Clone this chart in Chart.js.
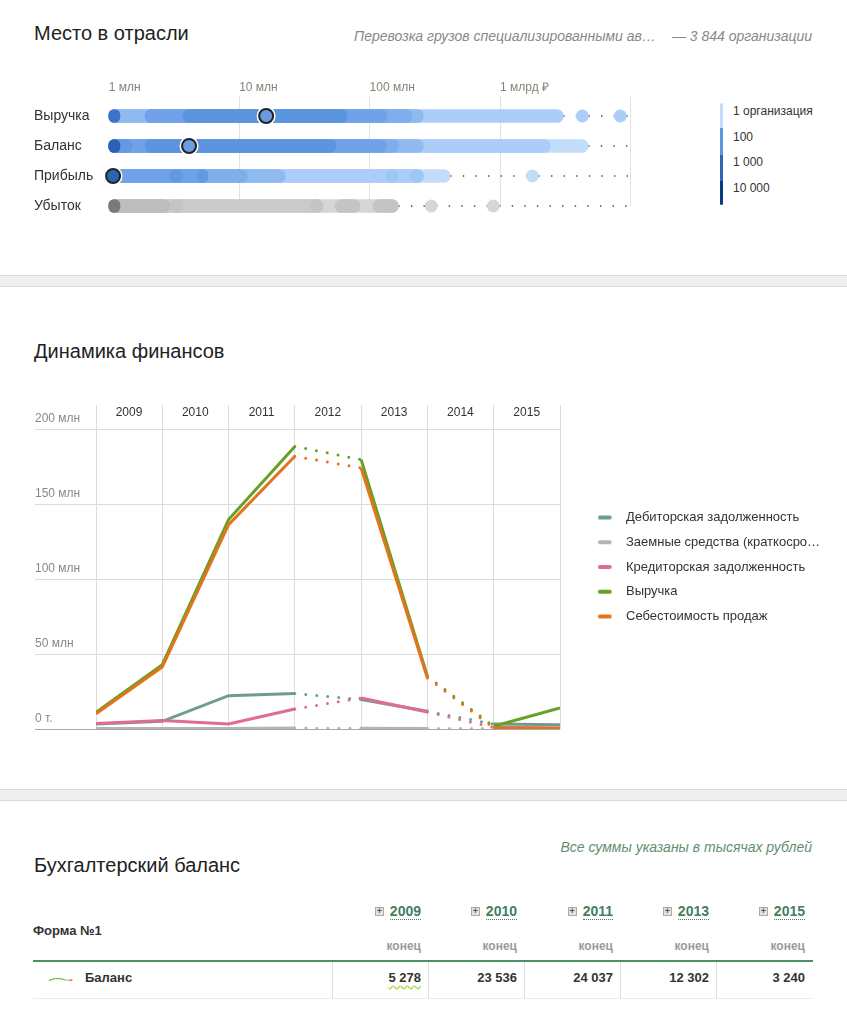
<!DOCTYPE html>
<html><head><meta charset="utf-8">
<script src="https://cdn.jsdelivr.net/npm/chart.js@4.4.1/dist/chart.umd.min.js"></script>
<style>
body{margin:0;background:#fff;font-family:"Liberation Sans",Arial,sans-serif;color:#222;}
#page{position:relative;width:847px;height:1021px;overflow:hidden;}
.abs{position:absolute;white-space:nowrap;}
h2{position:absolute;margin:0;font-weight:normal;font-size:20px;line-height:24px;color:#222;left:34px;}
.sep{position:absolute;left:0;width:847px;height:10px;background:#efefef;border-top:1px solid #d9d9d9;border-bottom:1px solid #d9d9d9;}
.note{font-style:italic;font-size:14px;line-height:16px;color:#888;right:35px;}
.lg{font-size:12px;line-height:14px;color:#333;left:733px;}
.bar{left:720px;width:3px;}
.th-year{font-size:14px;line-height:16px;font-weight:bold;color:#3f8060;text-align:right;}
.th-year .y{border-bottom:1px dotted #3f8060;}
.plus{display:inline-block;width:7px;height:7px;border:1px solid #aaa;background:#e2e2e2;font-size:9px;line-height:7px;text-align:center;color:#555;vertical-align:2px;margin-right:6px;font-weight:bold;}
.th-end{font-size:12px;line-height:14px;font-weight:bold;color:#9a9a9a;text-align:right;}
.cell{font-size:13px;line-height:16px;font-weight:bold;color:#333;text-align:right;}
.vsep{position:absolute;top:961px;height:37px;width:1px;background:#dedede;}
</style></head>
<body><div id="page">
<h2 style="top:21px">Место в отрасли</h2>
<div class="abs note" style="top:28px"><span>Перевозка грузов специализированными ав…</span><span style="margin-left:16px">— 3 844 организации</span></div>
<canvas id="rank" class="abs" style="left:0;top:60px" width="650" height="170"></canvas>
<div id="dens"></div>

<div class="sep" style="top:275px"></div>
<h2 style="top:339px">Динамика финансов</h2>
<canvas id="fin" class="abs" style="left:0;top:395px" width="847" height="350"></canvas>

<div class="sep" style="top:789px"></div>
<div class="abs note" style="top:839px;color:#5f9070">Все суммы указаны в тысячах рублей</div>
<h2 style="top:853px">Бухгалтерский баланс</h2>
<div id="table"></div>
</div>
<script>
// ---------- Место в отрасли ----------
const rankRows = ['Выручка', 'Баланс', 'Прибыль', 'Убыток'];
const rankTickValues = [1e6, 1e7, 1e8, 1e9, 1e10];
const rankTickLabels = ['1 млн', '10 млн', '100 млн', '1 млрд ₽', ''];
const densityLabels = ['1 организация', '100', '1 000', '10 000'];
// [from ₽, to ₽, density level]
const revenueSegments = [[1.0e6,3.05e9,1],[1.0e6,2.58e8,3],[1.9e6,2.12e8,4],[1.9e6,1.36e8,5],[3.71e6,6.72e7,7],[1.0e6,1.22e6,8]];
const balanceSegments = [[1.0e6,4.74e9,0],[1.0e6,2.43e9,1],[1.0e6,2.58e8,3],[1.0e6,1.66e8,4],[1.0e6,1.34e8,5],[1.9e6,5.54e7,7],[1.0e6,1.51e6,6],[1.0e6,1.22e6,9]];
const profitSegments = [[1.0e6,4.15e8,0],[1.0e6,2.58e8,1],[1.33e8,1.66e8,2],[2.06e8,2.59e8,2],[1.0e6,2.25e7,3],[1.0e6,1.15e7,4],[1.0e6,5.77e6,5],[2.95e6,3.71e6,6],[4.75e6,5.77e6,6]];
const lossSegments = [[1.0e6,1.66e8,0],[1.0e6,4.4e7,1],[5.44e7,8.46e7,2],[1.06e8,1.66e8,2],[3.5e7,4.4e7,2],[2.95e6,3.71e6,2],[1.0e6,2.95e6,3],[1.0e6,1.22e6,4]];
const revenueOutliers = [4.27e9, 8.34e9];
const balanceOutliers = [];
const profitOutliers = [1.77e9];
const lossOutliers = [2.97e8, 8.87e8];
const companyValues = [1.61e7, 4.13e6, 1.08e6, null];

// ---------- Динамика финансов (млн ₽) ----------
const years = ['2009','2010','2011','2012','2013','2014','2015'];
const missingYears = ['2012','2014'];
const receivables = [3.3, 5.1, 22.2, 23.6, 19.6, 11.8, 3.3, 2.9];
const borrowings = [0.4, 0.4, 0.4, 0.6, 0.5, 0.4, 0.3, 0.3];
const payables = [3.6, 5.6, 3.3, 13.3, 20.7, 11.3, 1.1, 0.6];
const revenue = [11.1, 42.9, 139.6, 188.4, 179.6, 35.1, 1.8, 14.0];
const costOfSales = [10.2, 41.3, 136.2, 181.8, 174.0, 34.0, 0.7, 0.5];
const finTicks = [0, 50, 100, 150, 200];

// ---------- Бухгалтерский баланс (тыс. ₽) ----------
const tableYears = ['2009','2010','2011','2013','2015'];
const balanceValues = [5278, 23536, 24037, 12302, 3240];

// ================= styles / building =================
const bluePal = ['#c2ddfb','#abcdf7','#a0c6f4','#8fbaf0','#7eaeec','#6fa2e8','#6399e2','#5b95e0','#3c74c9','#2b62b8'];
const grayPal = ['#d6d6d6','#cbcbcb','#c4c4c4','#bdbdbd','#7a7a7a'];
const rowSegs = [revenueSegments, balanceSegments, profitSegments, lossSegments];
const rowOutliers = [revenueOutliers, balanceOutliers, profitOutliers, lossOutliers];
const rowPal = [bluePal, bluePal, bluePal, grayPal];
const outlierLevel = [1, 1, 0, 0];
const markerFill = ['#6a9be0', '#6a9de2', '#2c64b4'];

const rankDatasets = [];
let seq = 0;
rowSegs.forEach((segs, r) => {
  segs.forEach(s => {
    rankDatasets.push({
      type: 'bar',
      data: rankRows.map((_, i) => i === r ? [s[0], s[1]] : null),
      backgroundColor: rowPal[r][s[2]],
      barThickness: 13, borderRadius: 7, borderSkipped: false, grouped: false,
      clip: false, order: 500 - (seq++)
    });
  });
  const end = Math.max(...segs.map(s => s[1]));
  rankDatasets.push({
    type: 'line',
    data: [{x: end, y: rankRows[r]}, {x: rankTickValues[rankTickValues.length - 1], y: rankRows[r]}],
    borderColor: '#444', borderWidth: 1.4, borderDash: [1.4, 11.2], pointRadius: 0,
    clip: false, order: 1000
  });
  if (rowOutliers[r].length) {
    rankDatasets.push({
      type: 'line', showLine: false,
      data: rowOutliers[r].map(v => ({x: v, y: rankRows[r]})),
      pointRadius: 6.5, pointBackgroundColor: rowPal[r][outlierLevel[r]], pointBorderWidth: 0,
      clip: false, order: 20
    });
  }
  if (companyValues[r] != null) {
    rankDatasets.push({
      type: 'line', showLine: false,
      data: [{x: companyValues[r], y: rankRows[r]}],
      pointRadius: 9.5, pointBackgroundColor: '#fff', pointBorderWidth: 0, clip: false, order: 3
    });
    rankDatasets.push({
      type: 'line', showLine: false,
      data: [{x: companyValues[r], y: rankRows[r]}],
      pointRadius: 7, pointBackgroundColor: markerFill[r], pointBorderColor: '#222', pointBorderWidth: 2,
      clip: false, order: 1
    });
  }
});

new Chart(document.getElementById('rank'), {
  type: 'bar',
  data: { labels: rankRows, datasets: rankDatasets },
  options: {
    indexAxis: 'y', responsive: false, animation: false, events: [],
    layout: { padding: { left: 34, right: 19.5, top: 16, bottom: 24 } },
    scales: {
      x: {
        type: 'logarithmic', position: 'top', min: 0.95e6, max: 1e10,
        afterBuildTicks: s => { s.ticks = rankTickValues.map(v => ({value: v})); },
        afterFit: s => { s.height = 40; },
        grid: { color: c => (c.tick && c.tick.value === rankTickValues[0]) ? 'rgba(0,0,0,0)' : '#e2e2e2', tickLength: 20 },
        border: { display: false },
        ticks: { align: 'start', padding: 1, color: '#8a8278', font: { size: 12, family: 'Liberation Sans' },
          maxRotation: 0, autoSkip: false,
          callback: v => { const i = rankTickValues.indexOf(v); return i >= 0 ? rankTickLabels[i] : ''; } }
      },
      y: {
        type: 'category', offset: false,
        afterFit: s => { s.width = 71.8; },
        grid: { display: false }, border: { display: false },
        ticks: { crossAlign: 'far', padding: 0, color: '#333', font: { size: 14, family: 'Liberation Sans' } }
      }
    },
    plugins: { legend: { display: false }, tooltip: { enabled: false } }
  }
});

// density colour legend (HTML)
(function(){
  const segCols = ['#c2ddfb', '#5b96e0', '#2d67ba', '#0d3a80'];
  const tops = [103, 128, 155, 181, 205];
  const lc = [110.7, 136.7, 162, 187.7];
  let h = '';
  segCols.forEach((c, i) => {
    const rad = i === 0 ? 'border-radius:2px 2px 0 0;' : (i === 3 ? 'border-radius:0 0 2px 2px;' : '');
    h += `<div class="abs bar" style="top:${tops[i]}px;height:${tops[i+1]-tops[i]}px;background:${c};${rad}"></div>`;
    h += `<div class="abs lg" style="top:${lc[i]-7}px">${densityLabels[i]}</div>`;
  });
  document.getElementById('dens').innerHTML = h;
})();

// ---------- line chart ----------
function swatch(color){
  const c = document.createElement('canvas'); c.width = 22; c.height = 6;
  const g = c.getContext('2d'); g.strokeStyle = color; g.lineWidth = 4; g.lineCap = 'round';
  g.beginPath(); g.moveTo(2, 3); g.lineTo(12, 3); g.stroke(); return c;
}
const missingIdx = missingYears.map(y => years.indexOf(y));
const finSeries = [
  ['Дебиторская задолженность', receivables, '#6c9d8e'],
  ['Заемные средства (краткосро…', borrowings, '#b4b4b4'],
  ['Кредиторская задолженность', payables, '#df6d8c'],
  ['Выручка', revenue, '#67a024'],
  ['Себестоимость продаж', costOfSales, '#e3741e']
];
const finDatasets = finSeries.map((s, i) => ({
  label: s[0],
  data: s[1].map((v, k) => ({x: k, y: v})),
  borderColor: s[2], backgroundColor: s[2], borderWidth: 3, pointRadius: 0,
  pointStyle: swatch(s[2]), tension: 0, order: finSeries.length - 1 - i,
  segment: {
    borderDash: c => missingIdx.includes(c.p0DataIndex) ? [0, 11] : undefined,
    borderCapStyle: c => missingIdx.includes(c.p0DataIndex) ? 'round' : undefined
  }
}));

const LEGEND_LEFT = 586.25;
const finChart = new Chart(document.getElementById('fin'), {
  type: 'line',
  data: { datasets: finDatasets },
  options: {
    responsive: false, animation: false, events: [],
    layout: { padding: { left: 35, top: 10, right: 0, bottom: 16 } },
    scales: {
      x: {
        type: 'linear', position: 'top', min: 0, max: years.length,
        afterBuildTicks: s => { s.ticks = years.concat(['']).map((_, k) => ({value: k})); },
        afterFit: s => { s.height = 24; },
        grid: { color: '#dcdcdc', tickLength: 24 },
        border: { display: false },
        ticks: { labelOffset: 33, padding: -15, color: '#333', font: { size: 12, family: 'Liberation Sans' },
          maxRotation: 0, autoSkip: false, callback: v => years[v] || '' }
      },
      y: {
        min: finTicks[0], max: finTicks[finTicks.length - 1],
        afterBuildTicks: s => { s.ticks = finTicks.map(v => ({value: v})); },
        afterFit: s => { s.width = 61; },
        grid: { color: c => (c.tick && c.tick.value === 0) ? '#a8a8a8' : '#dcdcdc', tickLength: 61 },
        border: { display: false },
        ticks: { crossAlign: 'far', labelOffset: -10, padding: 0, color: '#888', font: { size: 12, family: 'Liberation Sans' },
          callback: v => v === 0 ? '0 т.' : v + ' млн' }
      },
      spacer: {
        type: 'linear', position: 'right', display: true,
        afterFit: s => { s.width = 26.25; },
        grid: { display: false }, ticks: { display: false }, border: { display: false }
      }
    },
    plugins: {
      tooltip: { enabled: false },
      legend: {
        position: 'right', align: 'center', maxWidth: 400,
        labels: { usePointStyle: true, pointStyleWidth: 21.5, padding: 11.75, color: '#333',
          font: { size: 13, family: 'Liberation Sans' },
          sort: (a, b) => a.datasetIndex - b.datasetIndex }
      }
    }
  }
});
// place the legend so that it starts at LEGEND_LEFT
finChart.options.layout.padding.right = Math.max(0, 847 - LEGEND_LEFT - finChart.legend.width);
finChart.update();

// ---------- table ----------
(function(){
  let h = '';
  h += `<div class="abs" style="left:33px;top:923px;font-size:13px;line-height:16px;font-weight:bold;color:#333">Форма №1</div>`;
  tableYears.forEach((y, j) => {
    const right = 847 - (421 + 96 * j);
    h += `<div class="abs th-year" style="right:${right}px;top:903px"><span class="plus">+</span><span class="y">${y}</span></div>`;
    h += `<div class="abs th-end" style="right:${right}px;top:939px">конец</div>`;
    const deco = j === 0 ? 'text-decoration:underline wavy #b4d64a;text-underline-offset:3px;' : '';
    h += `<div class="abs cell" style="right:${right}px;top:970px;${deco}">${balanceValues[j].toLocaleString('ru-RU')}</div>`;
    h += `<div class="vsep" style="left:${332 + 96 * j}px"></div>`;
  });
  h += `<div class="abs" style="left:33px;top:960px;width:780px;height:1.5px;background:#4f8f64"></div>`;
  h += `<div class="abs" style="left:33px;top:998px;width:780px;height:1px;background:#ececec"></div>`;
  h += `<div class="abs" style="left:85px;top:970px;font-size:13px;line-height:16px;font-weight:bold;color:#333">Баланс</div>`;
  h += `<canvas id="spark" class="abs" style="left:45px;top:972px" width="30" height="13"></canvas>`;
  document.getElementById('table').innerHTML = h;
  const last = balanceValues.length - 1;
  new Chart(document.getElementById('spark'), {
    type: 'line',
    data: { labels: tableYears, datasets: [{ data: balanceValues, borderColor: '#80bb55', borderWidth: 1.3,
      pointRadius: c => c.dataIndex === last ? 1.6 : 0, pointBackgroundColor: '#f07a2a', pointBorderWidth: 0,
      segment: { borderColor: c => c.p1DataIndex === last ? '#bbb' : undefined } }] },
    options: { responsive: false, animation: false, events: [], layout: { padding: 2 },
      scales: { x: { display: false }, y: { display: false, min: 0 } },
      plugins: { legend: { display: false }, tooltip: { enabled: false } } }
  });
})();
</script>
</body></html>
